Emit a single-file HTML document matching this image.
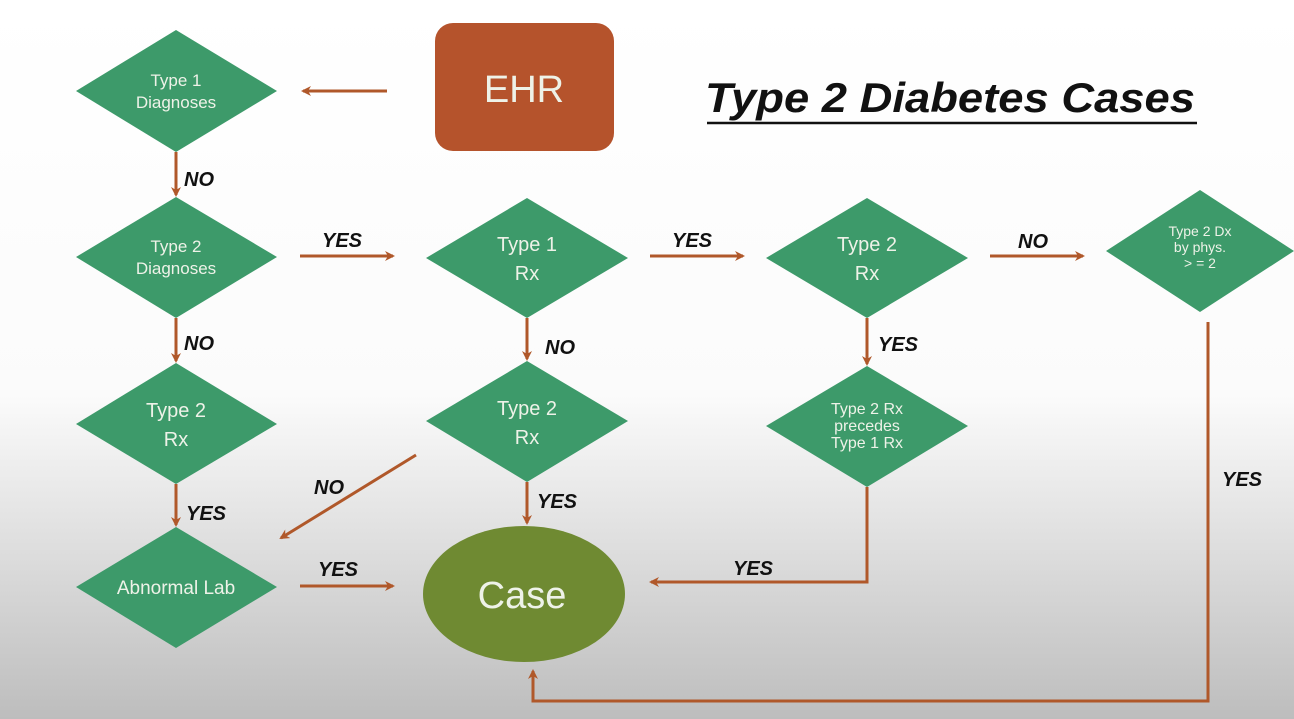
<!DOCTYPE html>
<html><head><meta charset="utf-8"><style>
html,body{margin:0;padding:0;width:1294px;height:719px;overflow:hidden}
</style></head><body>
<svg width="1294" height="719" xmlns="http://www.w3.org/2000/svg">
<defs>
<linearGradient id="bg" x1="0" y1="0" x2="0" y2="1">
<stop offset="0" stop-color="#ffffff"/><stop offset="0.55" stop-color="#fbfbfb"/><stop offset="1" stop-color="#bdbdbd"/>
</linearGradient>
<marker id="ah" markerWidth="10" markerHeight="10" refX="8" refY="5" orient="auto" markerUnits="userSpaceOnUse">
<path d="M0,0 L10,5 L0,10 L3,5 Z" fill="#b0582a"/></marker>
</defs>
<rect width="1294" height="719" fill="url(#bg)"/>
<g fill="#3d9a6a">
<polygon points="176,30 277,91 176,152 76,91"/>
<polygon points="176,197 277,257 176,318 76,257"/>
<polygon points="176,363 277,424 176,484 76,424"/>
<polygon points="176,527 277,587 176,648 76,587"/>
<polygon points="527,198 628,258 527,318 426,258"/>
<polygon points="527,361 628,421 527,482 426,421"/>
<polygon points="867,198 968,258 867,318 766,258"/>
<polygon points="867,366 968,426 867,487 766,426"/>
<polygon points="1200,190 1294,251 1200,312 1106,251"/>
</g>
<rect x="435" y="23" width="179" height="128" rx="18" fill="#b5532c"/>
<ellipse cx="524" cy="594" rx="101" ry="68" fill="#6f8a32"/>
<g fill="#eef2e8" font-family="Liberation Sans, sans-serif" text-anchor="middle">
<text x="176" y="86" font-size="17">Type 1</text><text x="176" y="108" font-size="17">Diagnoses</text>
<text x="176" y="252" font-size="17">Type 2</text><text x="176" y="274" font-size="17">Diagnoses</text>
<text x="176" y="417" font-size="20">Type 2</text><text x="176" y="446" font-size="20">Rx</text>
<text x="176" y="594" font-size="19">Abnormal Lab</text>
<text x="527" y="251" font-size="20">Type 1</text><text x="527" y="280" font-size="20">Rx</text>
<text x="527" y="415" font-size="20">Type 2</text><text x="527" y="444" font-size="20">Rx</text>
<text x="867" y="251" font-size="20">Type 2</text><text x="867" y="280" font-size="20">Rx</text>
<text x="867" y="414" font-size="16">Type 2 Rx</text><text x="867" y="431" font-size="16">precedes</text><text x="867" y="448" font-size="16">Type 1 Rx</text>
<text x="1200" y="236" font-size="14">Type 2 Dx</text><text x="1200" y="252" font-size="14">by phys.</text><text x="1200" y="268" font-size="14">&gt; = 2</text>
<text x="524" y="102" font-size="38">EHR</text>
<text x="522" y="608" font-size="38">Case</text>
</g>
<g stroke="#b0582a" stroke-width="3" fill="none" marker-end="url(#ah)">
<path d="M387,91 L303,91"/>
<path d="M176,152 L176,195"/>
<path d="M300,256 L393,256"/>
<path d="M650,256 L743,256"/>
<path d="M990,256 L1083,256"/>
<path d="M176,318 L176,361"/>
<path d="M527,318 L527,359"/>
<path d="M867,318 L867,364"/>
<path d="M176,484 L176,525"/>
<path d="M416,455 L281,538"/>
<path d="M527,482 L527,523"/>
<path d="M300,586 L393,586"/>
<path d="M867,487 L867,582 L651,582"/>
<path d="M1208,322 L1208,701 L533,701 L533,671"/>
</g>
<g fill="#111" font-family="Liberation Sans, sans-serif" font-style="italic" font-size="20" font-weight="bold">
<text x="184" y="186">NO</text>
<text x="322" y="247">YES</text>
<text x="672" y="247">YES</text>
<text x="1018" y="248">NO</text>
<text x="184" y="350">NO</text>
<text x="545" y="354">NO</text>
<text x="878" y="351">YES</text>
<text x="186" y="520">YES</text>
<text x="314" y="494">NO</text>
<text x="537" y="508">YES</text>
<text x="318" y="576">YES</text>
<text x="733" y="575">YES</text>
<text x="1222" y="486">YES</text>
</g>
<text x="705" y="112" font-family="Liberation Sans, sans-serif" font-style="italic" font-weight="bold" font-size="42" fill="#111" textLength="490" lengthAdjust="spacingAndGlyphs">Type 2 Diabetes Cases</text>
<line x1="707" y1="123" x2="1197" y2="123" stroke="#111" stroke-width="2.5"/>
</svg>
</body></html>
